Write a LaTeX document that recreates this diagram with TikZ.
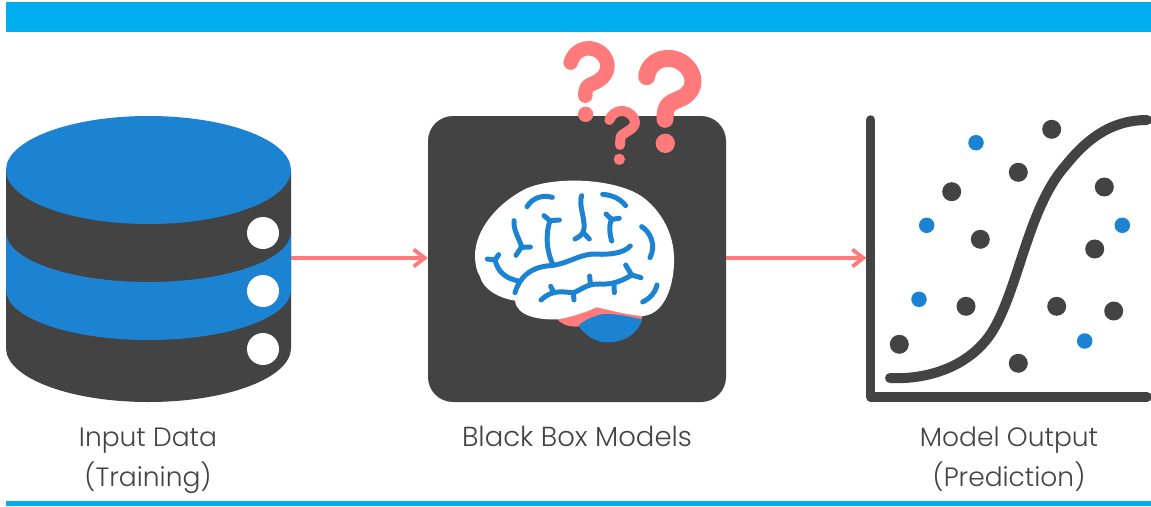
\documentclass[tikz,border=0pt]{standalone}
\usepackage{fontspec}
\setmainfont{Poppins Light}
\usetikzlibrary{arrows.meta}
\definecolor{dk}{HTML}{434343}
\definecolor{bl}{HTML}{1C83D2}
\definecolor{cor}{HTML}{FF7B7B}
\definecolor{cy}{HTML}{00AEEF}
\tikzset{
 lab/.style={font=\fontsize{26.5}{32}\selectfont,text=dk,align=center,inner sep=0pt,anchor=base},
 conn/.style={cor,line width=4pt,-{Straight Barb[length=11pt,width=17pt,line width=3.8pt]}},
 vein/.style={bl,line width=5pt,line cap=round,line join=round},
 ddot/.style={circle,fill=dk,inner sep=0pt,minimum size=19pt},
 bdot/.style={circle,fill=bl,inner sep=0pt,minimum size=15.5pt},
 wdot/.style={circle,fill=white,inner sep=0pt,minimum size=32pt},
 qm/.style={cor,line cap=round,line join=round},
}
\begin{document}
\begin{tikzpicture}[x=1pt,y=-1pt]
\useasboundingbox (0,0) rectangle (1151,506);
\fill[white] (0,0) rectangle (1151,506);
\fill[cy] (6,2) rectangle (1151,32);
\fill[cy] (6,501) rectangle (1151,506);
% database
\fill[dk] (6,170) -- (291,170) -- (291,348) arc[x radius=142.5,y radius=54,start angle=0,end angle=180] -- cycle;
\fill[bl] (6,232) arc[x radius=142.5,y radius=50,start angle=180,end angle=0] -- (291,290) arc[x radius=142.5,y radius=50,start angle=0,end angle=180] -- cycle;
\fill[bl] (148.5,170) ellipse[x radius=142.5,y radius=54];
\node[wdot] (d1) at (263,233) {};
\node[wdot] (d2) at (263,291) {};
\node[wdot] (d3) at (263,349) {};
\node[inner sep=0pt,minimum width=285pt,minimum height=286pt] (db) at (148.5,259) {};
% box
\node[fill=dk,rounded corners=25pt,inner sep=0pt,minimum width=298pt,minimum height=286pt] (box) at (577,259) {};
% question marks
\begin{scope}[shift={(450,30)},x=0.3333pt,y=-0.3333pt]
\draw[qm,line width=17pt] (590,140) .. controls (597,85) and (660,72) .. (697,98) .. controls (740,130) and (740,180) .. (697,203) .. controls (660,220) and (645,220) .. (645,268);
\fill[cor] (646,340) circle (29);
\draw[qm,line width=14.5pt] (362,98) .. controls (375,50) and (432,40) .. (462,78) .. controls (492,125) and (450,152) .. (430,160) .. controls (410,167) and (406,175) .. (406,197);
\fill[cor] (407,253) circle (23);
\draw[qm,line width=10pt] (478,270) .. controls (490,238) and (532,232) .. (552,265) .. controls (567,297) and (520,305) .. (512,320) .. controls (510,330) and (510,335) .. (510,345);
\fill[cor] (508,388) circle (17);
\end{scope}
% brain
\begin{scope}[shift={(460,180)},x=0.3333pt,y=-0.3333pt]
\fill[cor] (290,415) .. controls (340,405) and (380,395) .. (410,382) .. controls (450,390) and (500,400) .. (550,405) -- (540,425) .. controls (500,405) and (450,400) .. (420,405) .. controls (400,410) and (375,425) .. (355,440) .. controls (325,440) and (305,435) .. (290,415) -- cycle;
\fill[bl] (355,437) .. controls (375,420) and (400,408) .. (425,403) .. controls (470,400) and (510,410) .. (547,418) .. controls (532,465) and (490,487) .. (440,487) .. controls (405,487) and (375,465) .. (355,437) -- cycle;
\fill[white] (45,228) .. controls (45,150) and (110,70) .. (200,25) .. controls (270,-5) and (420,-10) .. (520,35) .. controls (580,62) and (640,140) .. (642,230) .. controls (645,290) and (625,400) .. (550,408) .. controls (500,405) and (450,390) .. (410,382) .. controls (370,400) and (320,415) .. (290,418) .. controls (240,420) and (170,410) .. (165,362) .. controls (120,355) and (70,330) .. (60,290) .. controls (50,275) and (45,250) .. (45,228) -- cycle;
\draw[vein] (201,80) .. controls (220,50) and (250,45) .. (277,52);
\draw[vein] (428,43) .. controls (455,45) and (480,55) .. (497,77);
\draw[vein] (365,47) .. controls (355,75) and (375,110) .. (372,145) .. controls (372,160) and (360,170) .. (345,177);
\draw[vein] (372,160) -- (388,177);
\draw[vein] (162,122) .. controls (160,150) and (175,170) .. (185,200) -- (168,226);
\draw[vein] (185,202) -- (211,201);
\draw[vein] (252,107) -- (270,122) .. controls (260,150) and (255,200) .. (277,250);
\draw[vein] (270,122) -- (298,120);
\draw[vein] (438,102) -- (455,118) .. controls (445,140) and (450,165) .. (455,183);
\draw[vein] (455,118) -- (478,115);
\draw[vein] (545,140) .. controls (570,155) and (590,195) .. (570,233);
\draw[vein] (82,237) -- (105,240) .. controls (115,280) and (140,295) .. (175,303);
\draw[vein] (105,240) -- (116,224);
\draw[vein] (165,338) .. controls (180,290) and (210,265) .. (260,258) .. controls (320,255) and (350,225) .. (400,222) .. controls (450,225) and (490,220) .. (511,198);
\draw[vein] (243,360) .. controls (275,330) and (300,335) .. (340,338) .. controls (365,330) and (380,310) .. (420,312) .. controls (460,315) and (490,300) .. (515,285) -- (543,293);
\draw[vein] (497,255) -- (515,285);
\draw[vein] (272,319) -- (280,335);
\draw[vein] (340,338) -- (342,360);
\draw[vein] (389,288) -- (391,311);
\draw[vein] (462,312) -- (463,338);
\draw[vein] (591,315) .. controls (585,340) and (570,355) .. (548,366);
\end{scope}
% chart
\node[inner sep=0pt,minimum width=8pt,minimum height=286pt] (ax) at (870.7,259) {};
\draw[dk,line width=9.5pt,line cap=round,line join=round] (870.7,120) -- (870.7,397) -- (1147,397);
\draw[dk,line width=10pt,line cap=round] (890,378) .. controls (930,380) and (975,365) .. (996,325) .. controls (1020,280) and (1030,205) .. (1066,165) .. controls (1090,135) and (1115,120) .. (1147,120);
\foreach \n/\p in {a/{899.3,344.3},b/{966,306.3},c/{1018.3,363.3},e/{1056.7,306.3},f/{1113.7,311},g/{1094.7,249},h/{1104.3,187},i/{1051.7,129.3},j/{1018.3,172.3},k/{951.7,191.7},l/{980.3,239.3}}
 \node[ddot] (\n) at (\p) {};
\foreach \n/\p in {m/{976,142.7},o/{926.7,225.3},q/{919,299.3},r/{1084.7,341},s/{1122.3,225.3}}
 \node[bdot] (\n) at (\p) {};
% connectors
\draw[conn] (db.east |- 0,258) -- (box.west |- 0,258);
\draw[conn] (box.east |- 0,258) -- (ax.west |- 0,258);
% labels
\node[lab] (t1) at (148,446.5) {Input Data};
\node[lab] (t1b) at (148,486) {(Training)};
\node[lab,font=\fontsize{27.5}{32}\selectfont] (t2) at (577,446.5) {Black Box Models};
\node[lab] (t3) at (1009,446.5) {Model Output};
\node[lab] (t3b) at (1009,486) {(Prediction)};
\end{tikzpicture}
\end{document}
